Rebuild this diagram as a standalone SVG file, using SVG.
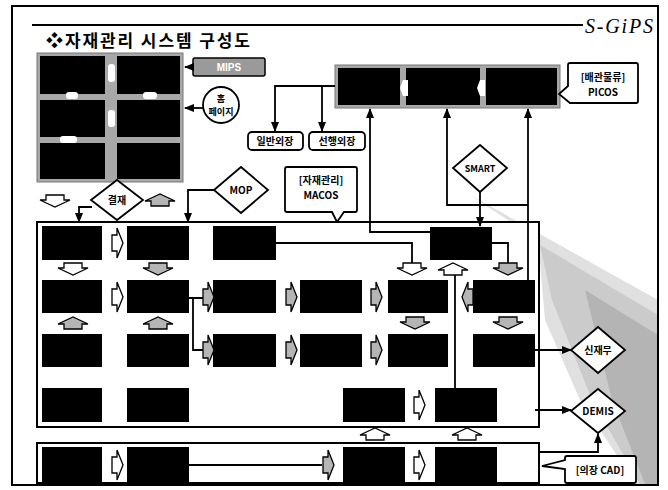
<svg xmlns="http://www.w3.org/2000/svg" xmlns:xlink="http://www.w3.org/1999/xlink" width="668" height="490" viewBox="0 0 668 490">
<style>
.w{fill:#fff;stroke:#000;stroke-width:1.3}
.g{fill:#b5b5b5;stroke:#000;stroke-width:1.3}
.blk{fill:#000}
.ln{fill:none;stroke:#000;stroke-width:1.8}
.fr{fill:none;stroke:#000;stroke-width:2}
.t{font-family:"Noto Sans CJK KR","Liberation Sans",sans-serif;font-weight:bold;fill:#000;text-anchor:middle}
.lbl{fill:#fff;stroke:#000;stroke-width:1.8}
</style>
<defs>
<marker id="ah" viewBox="0 0 10 10" refX="9" refY="5" markerUnits="userSpaceOnUse" markerWidth="10" markerHeight="10" orient="auto"><path d="M0,1 L10,5 L0,9 Z" fill="#000"/></marker>
<path id="ar" d="M-5,-8 L0,-8 L0,-15 L6,0 L0,15 L0,8 L-5,8 Z"/>
<path id="ad" d="M-9,-6 L9,-6 L9,-1 L15,-1 L0,6 L-15,-1 L-9,-1 Z"/>
</defs>
<rect width="668" height="490" fill="#fff"/>
<g id="beam">
<polygon points="470,195 658,300 658,484 636,484 580,400 545,320 538,240" fill="#e0e0e0"/>
<polygon points="540,245 658,315 658,484 640,484 592,400 552,300" fill="#cbcbcb"/>
<polygon points="585,290 658,335 658,484 645,484 612,400" fill="#b4b4b4"/>
</g>
<rect class="fr" x="12" y="6" width="646" height="479"/>
<line x1="32" y1="25" x2="583" y2="25" stroke="#000" stroke-width="2"/>
<text x="585" y="33" textLength="68" font-family="Liberation Serif,serif" font-style="italic" font-size="20">S-GiPS</text>
<text x="46" y="47" textLength="204" font-family="Noto Sans CJK KR,Liberation Sans,sans-serif" font-weight="bold" font-size="17">❖자재관리 시스템 구성도</text>

<g id="grid">
<rect x="37" y="53" width="146" height="129" fill="#a8a8a8" stroke="#777" stroke-width="1"/>
<rect class="blk" x="40" y="56" width="65" height="38"/>
<rect class="blk" x="117" y="56" width="63" height="38"/>
<rect class="blk" x="40" y="100" width="65" height="37"/>
<rect class="blk" x="117" y="100" width="63" height="37"/>
<rect class="blk" x="40" y="143" width="65" height="36"/>
<rect class="blk" x="117" y="143" width="63" height="36"/>
<rect x="108" y="64" width="7" height="18" rx="3" fill="#fff"/>
<rect x="108" y="110" width="7" height="17" rx="3" fill="#fff"/>
<rect x="66" y="92" width="12" height="7" rx="3" fill="#fff"/>
<rect x="143" y="92" width="14" height="7" rx="3" fill="#fff"/>
<rect x="60" y="136" width="17" height="7" rx="3" fill="#fff"/>
</g>
<g id="mips">
<rect x="193" y="58" width="72" height="18" rx="2" fill="#9a9a9a" stroke="#000" stroke-width="1.5"/>
<text x="229" y="71" font-family="Liberation Sans,sans-serif" font-weight="bold" font-size="10" fill="#fff" text-anchor="middle">MIPS</text>
</g>
<g id="homepage">
<circle cx="221" cy="105" r="18" fill="#fff" stroke="#000" stroke-width="1.8"/>
<text class="t" x="221" y="102" font-size="9">홈</text>
<text class="t" x="221" y="115" font-size="9">페이지</text>
</g>
<g id="picos">
<rect x="335" y="65" width="225" height="43" fill="#a8a8a8" stroke="#777" stroke-width="1"/>
<rect class="blk" x="338" y="68" width="62" height="37"/>
<rect class="blk" x="406" y="68" width="74" height="37"/>
<rect class="blk" x="486" y="68" width="71" height="37"/>
<path d="M408,80 L408,96 L403,96 L400,88 L403,80 Z" fill="#fff"/>
<path d="M485,80 L485,96 L480,96 L477,88 L480,80 Z" fill="#fff"/>
</g>
<g id="picos-label">
<path class="lbl" d="M570,63 H636 Q638,63 638,65 V101 Q638,103 636,103 H570 L559,94 L568,86 V65 Q568,63 570,63 Z"/>
<text class="t" x="603" y="81" font-size="10">[배관물류]</text>
<text class="t" x="603" y="96" font-size="10">PICOS</text>
</g>
<g id="ilban">
<rect class="lbl" x="248" y="132" width="55" height="18" rx="4"/>
<text class="t" x="275" y="145" font-size="10">일반외장</text>
</g>
<g id="seonhaeng">
<rect class="lbl" x="309" y="132" width="56" height="18" rx="4"/>
<text class="t" x="337" y="145" font-size="10">선행외장</text>
</g>
<g id="gyeoljae">
<polygon points="117,180 143,200 117,220 91,200" fill="#fff" stroke="#000" stroke-width="1.8"/>
<text class="t" x="117" y="204" font-size="10">결재</text>
</g>
<g id="mop">
<polygon points="241,167 268,190 241,213 214,190" fill="#fff" stroke="#000" stroke-width="1.8"/>
<text class="t" x="241" y="194" font-size="10">MOP</text>
</g>
<g id="macos-label">
<path class="lbl" d="M287,167 H355 Q357,167 357,169 V210 Q357,212 355,212 H344 L337,222 L332,212 H287 Q285,212 285,210 V169 Q285,167 287,167 Z"/>
<text class="t" x="321" y="184" font-size="10">[자재관리]</text>
<text class="t" x="321" y="199" font-size="10">MACOS</text>
</g>
<g id="smart">
<polygon points="480,145 507,168 480,192 453,168" fill="#fff" stroke="#000" stroke-width="1.8"/>
<text class="t" x="480" y="172" font-size="9">SMART</text>
</g>
<g id="macos-box">
<rect x="37" y="222" width="502" height="205" fill="#fff" stroke="#000" stroke-width="2"/>
</g>
<g id="cad-box">
<rect x="37" y="443" width="502" height="40" fill="#fff" stroke="#000" stroke-width="2"/>
</g>
<g id="sinjaemu">
<polygon points="598,327 625,350 598,373 571,350" fill="#fff" stroke="#000" stroke-width="1.8"/>
<text class="t" x="598" y="354" font-size="10">신재무</text>
</g>
<g id="demis">
<polygon points="598,389 625,411 598,433 571,411" fill="#fff" stroke="#000" stroke-width="1.8"/>
<text class="t" x="598" y="415" font-size="10">DEMIS</text>
</g>
<g id="cad-label">
<path class="lbl" d="M567,456 H634 Q636,456 636,458 V481 Q636,483 634,483 H567 Q565,483 565,481 V469 L542,466 L565,460 V458 Q565,456 567,456 Z"/>
<text class="t" x="600" y="474" font-size="10">[의장 CAD]</text>
</g>

<g id="boxes">
<rect class="blk" x="42" y="226" width="60" height="34"/>
<rect class="blk" x="127" y="226" width="62" height="34"/>
<rect class="blk" x="213" y="226" width="63" height="34"/>
<rect class="blk" x="430" y="227" width="62" height="33"/>
<rect class="blk" x="42" y="280" width="60" height="33"/>
<rect class="blk" x="127" y="280" width="62" height="33"/>
<rect class="blk" x="213" y="280" width="63" height="33"/>
<rect class="blk" x="300" y="280" width="62" height="33"/>
<rect class="blk" x="388" y="280" width="60" height="33"/>
<rect class="blk" x="473" y="280" width="62" height="33"/>
<rect class="blk" x="42" y="334" width="60" height="33"/>
<rect class="blk" x="127" y="334" width="62" height="33"/>
<rect class="blk" x="213" y="334" width="63" height="33"/>
<rect class="blk" x="300" y="334" width="62" height="33"/>
<rect class="blk" x="388" y="334" width="60" height="33"/>
<rect class="blk" x="473" y="334" width="62" height="33"/>
<rect class="blk" x="42" y="388" width="60" height="34"/>
<rect class="blk" x="127" y="388" width="62" height="34"/>
<rect class="blk" x="343" y="388" width="62" height="34"/>
<rect class="blk" x="435" y="388" width="62" height="34"/>
<rect class="blk" x="42" y="447" width="60" height="35"/>
<rect class="blk" x="127" y="447" width="62" height="35"/>
<rect class="blk" x="343" y="447" width="62" height="35"/>
<rect class="blk" x="435" y="447" width="62" height="35"/>
</g>

<g id="connectors">
<path class="ln" d="M193,67 H185" marker-end="url(#ah)"/>
<path class="ln" d="M203,108 H185" marker-end="url(#ah)"/>
<path class="ln" d="M335,86 H275 V131" marker-end="url(#ah)"/>
<path class="ln" d="M322,86 V131" marker-end="url(#ah)"/>
<path class="ln" d="M92,207 H79 V222" marker-end="url(#ah)"/>
<path class="ln" d="M214,190 H188 V222" marker-end="url(#ah)"/>
<path class="ln" d="M430,232 H370 V109" marker-end="url(#ah)"/>
<path class="ln" d="M528,205 H447 V109" marker-end="url(#ah)"/>
<path class="ln" d="M528,280 V109" marker-end="url(#ah)"/>
<path class="ln" d="M480,192 V226" marker-end="url(#ah)"/>
<path class="ln" d="M276,243 H412 V263"/>
<path class="ln" d="M492,243 H508 V263"/>
<path class="ln" d="M189,298 H203 M193,298 V350 H203"/>
<path class="ln" d="M455,274 V388"/>
<path class="ln" d="M535,350 H571" marker-end="url(#ah)"/>
<path class="ln" d="M535,410 H571" marker-end="url(#ah)"/>
<path class="ln" d="M539,452 H598 V434" marker-end="url(#ah)"/>
<path class="ln" d="M189,465 H322"/>
<use xlink:href="#ad" class="w" x="55" y="201"/>
<use xlink:href="#ad" class="g" transform="translate(160,200) rotate(180)"/>
<use xlink:href="#ar" class="w" x="117" y="243"/>
<use xlink:href="#ad" class="w" x="73" y="269"/>
<use xlink:href="#ad" class="g" x="158" y="269"/>
<use xlink:href="#ad" class="w" x="412" y="269"/>
<use xlink:href="#ad" class="w" transform="translate(453,269) rotate(180)"/>
<use xlink:href="#ad" class="g" x="508" y="269"/>
<use xlink:href="#ar" class="w" x="117" y="297"/>
<use xlink:href="#ar" class="g" x="208" y="297"/>
<use xlink:href="#ar" class="g" x="291" y="297"/>
<use xlink:href="#ar" class="g" x="376" y="297"/>
<use xlink:href="#ar" class="g" transform="translate(468,297) rotate(180)"/>
<use xlink:href="#ad" class="g" transform="translate(73,323) rotate(180)"/>
<use xlink:href="#ad" class="g" transform="translate(158,323) rotate(180)"/>
<use xlink:href="#ad" class="g" x="415" y="323"/>
<use xlink:href="#ad" class="g" x="508" y="323"/>
<use xlink:href="#ar" class="g" x="208" y="350"/>
<use xlink:href="#ar" class="g" x="291" y="350"/>
<use xlink:href="#ar" class="g" x="376" y="350"/>
<use xlink:href="#ar" class="w" x="419" y="405"/>
<use xlink:href="#ad" class="w" transform="translate(375,434) rotate(180)"/>
<use xlink:href="#ad" class="w" transform="translate(467,434) rotate(180)"/>
<use xlink:href="#ar" class="w" x="117" y="465"/>
<use xlink:href="#ar" class="g" x="328" y="465"/>
<use xlink:href="#ar" class="w" x="419" y="465"/>
</g>
</svg>
